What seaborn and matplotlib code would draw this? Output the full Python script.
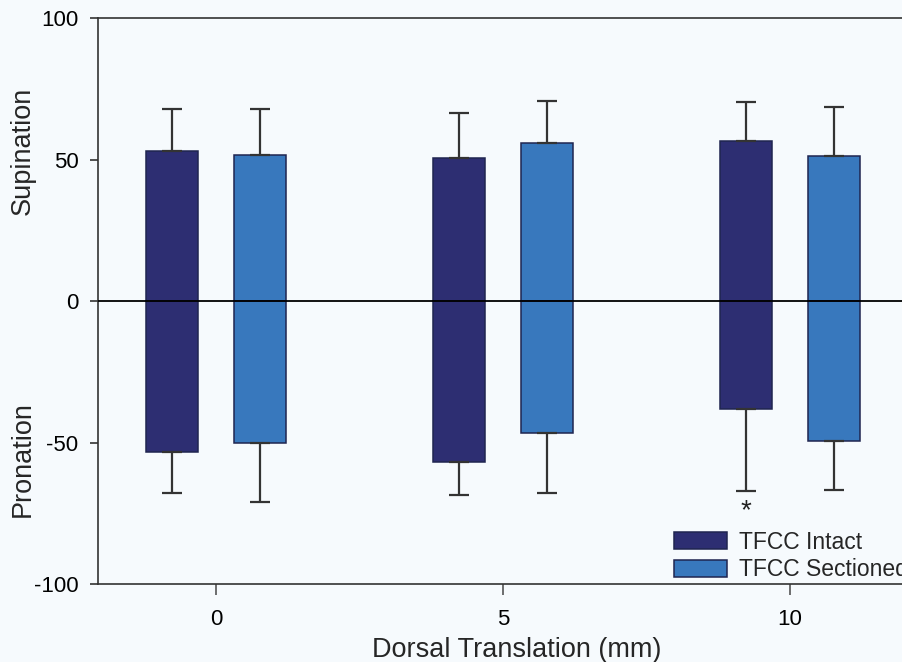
import matplotlib
matplotlib.use("Agg")
import matplotlib.pyplot as plt
import numpy as np
import pandas as pd
import seaborn as sns

# values (degrees)
translation = ["0", "5", "10"]
groups = ["TFCC Intact", "TFCC Sectioned"]

supination_intact = [53.1, 50.4, 56.6]
supination_intact_sd = [14.7, 15.9, 13.6]
supination_sectioned = [51.6, 56.0, 51.2]
supination_sectioned_sd = [16.1, 14.7, 17.3]

pronation_intact = [-53.4, -56.8, -38.2]
pronation_intact_sd = [14.6, 11.6, 29.1]
pronation_sectioned = [-50.3, -46.5, -49.3]
pronation_sectioned_sd = [20.8, 21.2, 17.4]

colors = ["#2d2e72", "#3878bd"]
bg = "#f6fafd"

sup_df = pd.DataFrame({
    "Translation": translation * 2,
    "Group": [groups[0]] * 3 + [groups[1]] * 3,
    "value": supination_intact + supination_sectioned,
    "sd": supination_intact_sd + supination_sectioned_sd,
})
pro_df = pd.DataFrame({
    "Translation": translation * 2,
    "Group": [groups[0]] * 3 + [groups[1]] * 3,
    "value": pronation_intact + pronation_sectioned,
    "sd": pronation_intact_sd + pronation_sectioned_sd,
})

sns.set_style("ticks")
plt.rcParams["font.family"] = ["Liberation Sans", "DejaVu Sans"]
plt.rcParams["axes.unicode_minus"] = False

fig = plt.figure(figsize=(9.03, 6.62), dpi=100, facecolor=bg)
ax = fig.add_axes([0.1085, 0.1178, 0.8915, 0.855])
ax.set_facecolor(bg)

bar_kw = dict(x="Translation", y="value", hue="Group", order=translation,
              hue_order=groups, palette=colors, width=0.608, gap=0.405,
              edgecolor="#1f2550", linewidth=1.1, saturation=1, errorbar=None, ax=ax)

sns.barplot(data=sup_df, legend=True, **bar_kw)
n_sup = len(ax.patches)
sns.barplot(data=pro_df, legend=False, **bar_kw)

# one-sided error bars, matched to the bars seaborn drew
for df, patches, sign in [(sup_df, ax.patches[:n_sup], 1), (pro_df, ax.patches[n_sup:], -1)]:
    xs = [p.get_x() + p.get_width() / 2 for p in patches if p.get_height() != 0]
    vals = df["value"].values
    sds = df["sd"].values
    if sign > 0:
        yerr = [np.zeros_like(sds), sds]
    else:
        yerr = [sds, np.zeros_like(sds)]
    ax.errorbar(xs, vals, yerr=yerr, fmt="none", ecolor="#333333",
                elinewidth=1.6, capsize=7, capthick=1.6, zorder=1)
    if sign < 0:
        # significance marker below the intact bar at 10 mm
        ax.text(xs[2], vals[2] - sds[2] - 7, "*", ha="center", va="center",
                fontsize=20, color="#222222")

ax.axhline(0, color="black", lw=1.3, zorder=3)

ax.set_ylim(-100, 100)
ax.set_yticks([-100, -50, 0, 50, 100])
ax.set_xlim(-0.411, 2.394)
ax.tick_params(axis="y", labelsize=16, length=6, width=1.2, pad=8, colors="#333333", labelcolor="black")
ax.tick_params(axis="x", labelsize=16, length=8, width=1.2, pad=10, colors="#555555", labelcolor="black")

for side in ["left", "bottom", "top"]:
    ax.spines[side].set_color("#333333")
    ax.spines[side].set_linewidth(1.2)
ax.spines["right"].set_visible(False)

ax.set_xlabel("Dorsal Translation (mm)", fontsize=19.5)
ax.xaxis.set_label_coords(0.5205, -0.093)
ax.set_ylabel("")
ax.text(-0.093, 53, "Supination", rotation=90, ha="center", va="center",
        fontsize=19.5, transform=ax.get_yaxis_transform())
ax.text(-0.093, -56, "Pronation", rotation=90, ha="center", va="center",
        fontsize=19.5, transform=ax.get_yaxis_transform())

ax.legend(loc="lower left", bbox_to_anchor=(0.7155, 0.005), frameon=False,
          fontsize=16.5, handlelength=2.3, handleheight=0.75, handletextpad=0.55,
          labelspacing=0.2, borderpad=0, borderaxespad=0)

fig.savefig("out.png", dpi=100, facecolor=bg)
